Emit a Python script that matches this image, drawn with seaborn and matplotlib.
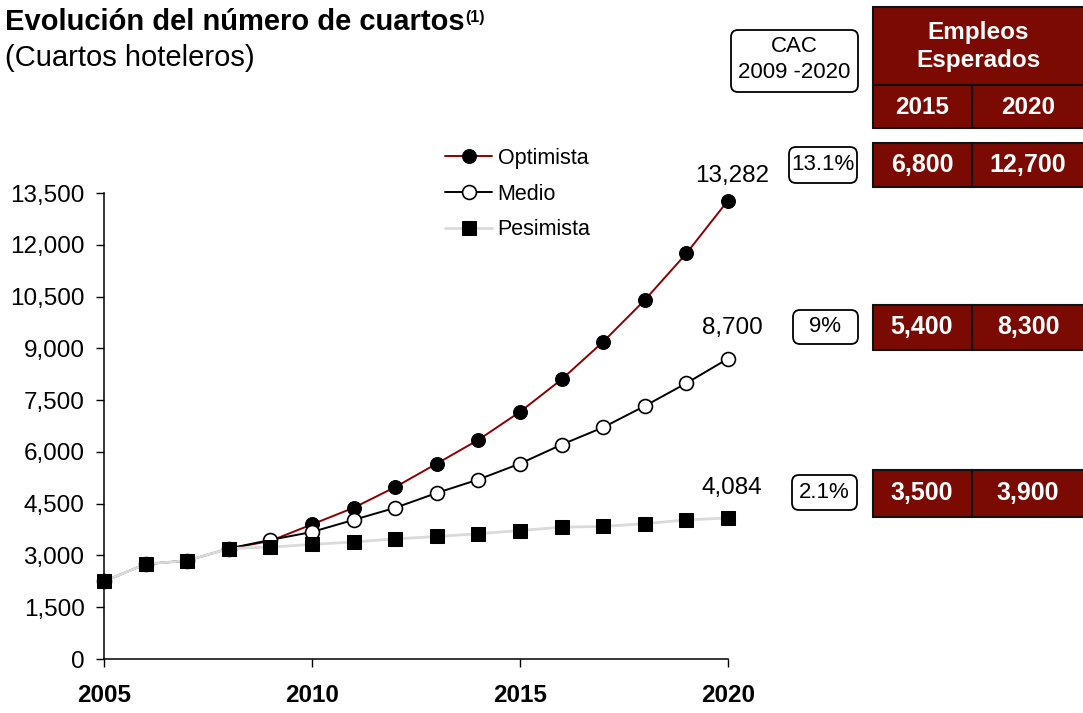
import numpy as np
import pandas as pd
import seaborn as sns
import matplotlib.pyplot as plt
from matplotlib.patches import Rectangle, FancyBboxPatch
from matplotlib.ticker import FuncFormatter

# data
years = list(range(2005, 2021))
optimista = [2250, 2750, 2850, 3200, 3420, 3900, 4380, 4980, 5660, 6350, 7160, 8100, 9190, 10400, 11750, 13282]
medio = [2250, 2750, 2850, 3200, 3450, 3680, 4030, 4380, 4810, 5200, 5660, 6210, 6710, 7330, 7990, 8700]
pesimista = [2250, 2750, 2850, 3200, 3240, 3320, 3390, 3480, 3550, 3630, 3720, 3820, 3840, 3920, 4030, 4084]
end_labels = ['13,282', '8,700', '4,084']

cac = ['13.1%', '9%', '2.1%']
empleos_2015 = ['6,800', '5,400', '3,500']
empleos_2020 = ['12,700', '8,300', '3,900']

W, H = 1083, 713
RED = '#7a0a02'


def fx(x):
    return x / W


def fy(y):
    return 1 - y / H


sns.set_style('ticks')
plt.rcParams['font.family'] = ['Liberation Sans', 'DejaVu Sans']
plt.rcParams['text.color'] = 'black'
plt.rcParams['xtick.color'] = 'black'
plt.rcParams['ytick.color'] = 'black'

fig = plt.figure(figsize=(W / 100, H / 100), dpi=100)
ax = fig.add_axes([fx(104), fy(659), fx(728) - fx(104), fy(193) - fy(659)])

sns.lineplot(x=years, y=optimista, ax=ax, color='#8b0000', lw=1.4, marker='o', markersize=10,
             markerfacecolor='black', markeredgecolor='black', clip_on=False, zorder=3, label='Optimista', legend=False)
sns.lineplot(x=years, y=medio, ax=ax, color='black', lw=1.4, marker='o', markersize=10,
             markerfacecolor='white', markeredgecolor='black', markeredgewidth=1.2, clip_on=False, zorder=4,
             label='Medio', legend=False)
sns.lineplot(x=years, y=pesimista, ax=ax, color='#dadada', lw=2, marker='s', markersize=9.5,
             markerfacecolor='black', markeredgecolor='black', clip_on=False, zorder=5, label='Pesimista', legend=False)

ax.set_xlim(2005, 2020)
ax.set_ylim(0, 13500)
ax.set_xticks([2005, 2010, 2015, 2020])
ax.set_yticks(np.arange(0, 13501, 1500))
ax.yaxis.set_major_formatter(FuncFormatter(lambda v, p: f'{v:,.0f}'))
ax.tick_params(axis='y', length=6, width=1, labelsize=17.5, pad=8)
ax.tick_params(axis='x', length=6, width=1, labelsize=17.5, pad=12)
for t in ax.get_xticklabels():
    t.set_fontweight('bold')
sns.despine(ax=ax)
for s in ['left', 'bottom']:
    ax.spines[s].set_color('black')
    ax.spines[s].set_linewidth(1.1)
ax.set_xlabel('')
ax.set_ylabel('')

# end-of-series labels
for series, lab, off in zip([optimista, medio, pesimista], end_labels, [10, 14, 14]):
    ax.annotate(lab, (years[-1], series[-1]), xytext=(3, off), textcoords='offset points',
                ha='center', va='bottom', fontsize=17.5)

leg = ax.legend(handles=ax.get_lines()[:3], loc='upper left', bbox_to_anchor=(fx(445), fy(148)),
                bbox_transform=fig.transFigure, frameon=False, fontsize=15.5, borderpad=0, borderaxespad=0,
                handlelength=2.2, handletextpad=0.25, labelspacing=0.68)

# title
title = fig.text(fx(5), fy(30), 'Evolución del número de cuartos', fontsize=21, fontweight='bold', va='baseline')
fig.canvas.draw()
bb = title.get_window_extent()
fig.text(bb.x1 / W + 0.001, fy(22), '(1)', fontsize=11.5, fontweight='bold', va='baseline')
fig.text(fx(5), fy(66), '(Cuartos hoteleros)', fontsize=21, va='baseline')

# right-hand table
def cell(x0, y0, x1, y1):
    fig.add_artist(Rectangle((fx(x0), fy(y1)), fx(x1) - fx(x0), fy(y0) - fy(y1), transform=fig.transFigure,
                             facecolor=RED, edgecolor='#111111', lw=1.5))


cell(873, 7, 1090, 85)
cell(873, 85, 972, 128)
cell(972, 85, 1090, 128)
fig.text(fx(978), fy(33), 'Empleos', color='white', fontsize=17.5, fontweight='bold', ha='center', va='center')
fig.text(fx(978), fy(60), 'Esperados', color='white', fontsize=17.5, fontweight='bold', ha='center', va='center')
fig.text(fx(922), fy(107), '2015', color='white', fontsize=17.5, fontweight='bold', ha='center', va='center')
fig.text(fx(1028), fy(107), '2020', color='white', fontsize=17.5, fontweight='bold', ha='center', va='center')


def rbox(x0, y0, x1, y1):
    fig.add_artist(FancyBboxPatch((x0, H - y1), x1 - x0, y1 - y0, boxstyle='round,pad=0,rounding_size=7',
                                  transform=None, facecolor='white', edgecolor='black', lw=1.3))


rbox(731, 30, 858, 92)
fig.text(fx(794), fy(46), 'CAC', fontsize=16, ha='center', va='center')
fig.text(fx(794), fy(72), '2009 -2020', fontsize=16, ha='center', va='center')

rows = [(143, 187), (305, 350), (470, 517)]
boxes = [(789, 147, 857, 183), (793, 310, 858, 344), (792, 475, 857, 510)]
for (y0, y1), b, c, e15, e20 in zip(rows, boxes, cac, empleos_2015, empleos_2020):
    cell(873, y0, 972, y1)
    cell(972, y0, 1090, y1)
    yc = (y0 + y1) / 2
    fig.text(fx(922), fy(yc), e15, color='white', fontsize=18, fontweight='bold', ha='center', va='center')
    fig.text(fx(1028), fy(yc), e20, color='white', fontsize=18, fontweight='bold', ha='center', va='center')
    rbox(*b)
    fig.text(fx((b[0] + b[2]) / 2), fy((b[1] + b[3]) / 2), c, fontsize=16, ha='center', va='center')

fig.savefig('out.png', dpi=100)
